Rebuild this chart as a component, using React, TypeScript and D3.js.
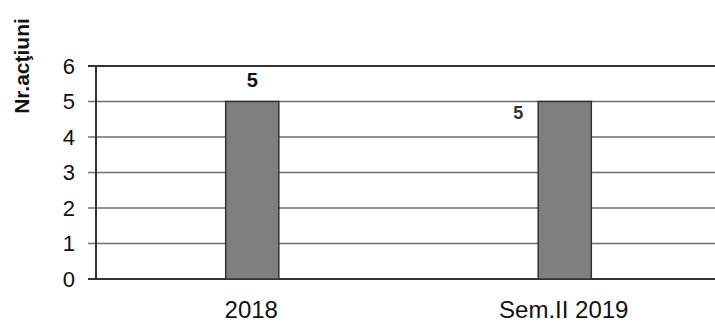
import React from "react";
import * as d3 from "d3";

const categories = ["2018", "Sem.II 2019"];
const values = [5, 5];
const yTicks = [0, 1, 2, 3, 4, 5, 6];
const yTitle = "Nr.acţiuni";

export default function App() {
  const W = 715, H = 324;
  const left = 96, right = 721, top = 66, bottom = 279;
  const x = d3.scaleBand<string>().domain(categories).range([left, right]).paddingInner(0.83).paddingOuter(0.415);
  const y = d3.scaleLinear().domain([0, 6]).range([bottom, top]);
  const font = "Arial, 'Liberation Sans', sans-serif";
  return (
    <svg width={W} height={H} style={{ position: "absolute", left: 0, top: 0, background: "#fff" }}>
      {yTicks.map((t) => (
        <g key={t}>
          <line x1={88} x2={right} y1={y(t)} y2={y(t)} stroke={t === 0 || t === 6 ? "#333" : "#6e6e6e"} strokeWidth={t === 0 || t === 6 ? 2 : 1.3} />
          <text x={75} y={y(t)} dy="0.36em" textAnchor="end" fontFamily={font} fontSize={22} fill="#111">{t}</text>
        </g>
      ))}
      <line x1={left} x2={left} y1={top} y2={bottom} stroke="#333" strokeWidth={2} />
      {categories.map((c, i) => (
        <g key={c}>
          <rect x={x(c)} y={y(values[i])} width={x.bandwidth()} height={bottom - y(values[i])} fill="#7f7f7f" stroke="#333" strokeWidth={1.5} />
          <text x={(x(c) as number) + x.bandwidth() / 2 - 1} y={318} textAnchor="middle" fontFamily={font} fontSize={24} fill="#111">{c}</text>
        </g>
      ))}
      <text x={(x(categories[0]) as number) + x.bandwidth() / 2} y={y(values[0]) - 15} textAnchor="middle" fontFamily={font} fontSize={20} fontWeight="bold" fill="#111">{values[0]}</text>
      <text x={(x(categories[1]) as number) - 20} y={y(values[1]) + 17} textAnchor="middle" fontFamily={font} fontSize={18} fontWeight="bold" fill="#333">{values[1]}</text>
      <text transform={`translate(21, 66) rotate(-90)`} textAnchor="middle" dy="0.36em" fontFamily={font} fontSize={21} fontWeight="bold" fill="#111">{yTitle}</text>
    </svg>
  );
}
